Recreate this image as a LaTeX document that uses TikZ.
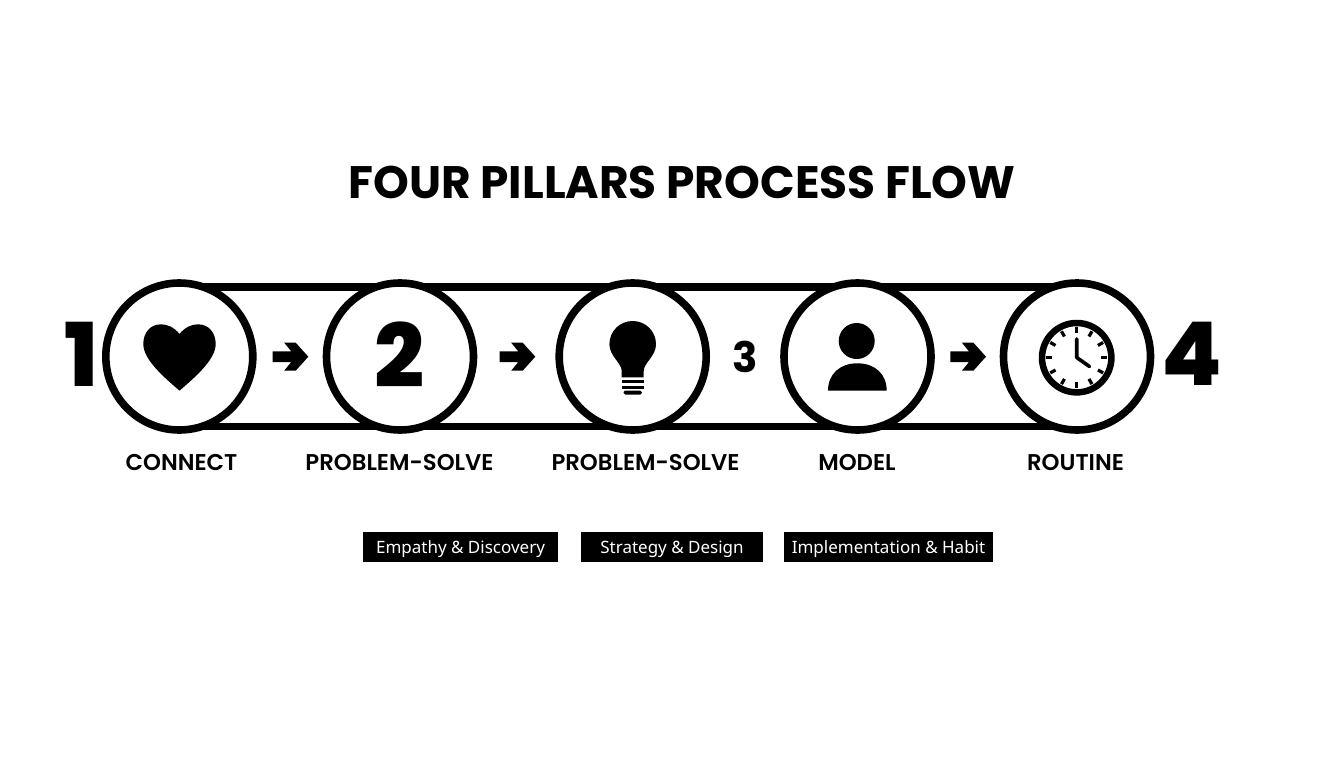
\documentclass[tikz,border=0pt]{standalone}
\usepackage{fontspec}
\setmainfont{Poppins}
\newfontfamily\pblack{Poppins ExtraBold}
\newfontfamily\psemi{Poppins SemiBold}
\newfontfamily\pbold{Poppins}[UprightFont=* Bold]
\newfontfamily\tagfont{Noto Sans}
\tikzset{
  ring/.style={circle,draw=black,fill=white,line width=7.6pt,minimum size=147pt,inner sep=0pt,outer sep=0pt},
  rail/.style={line width=7.6pt,draw=black},
  titletext/.style={anchor=base,inner sep=0pt,font=\pbold\fontsize{45.5}{46}\selectfont},
  steplabel/.style={anchor=base,inner sep=0pt,font=\psemi\fontsize{22.8}{23}\selectfont},
  bignum/.style={anchor=base,inner sep=0pt,font=\pblack\fontsize{88}{88}\selectfont},
  tagbox/.style={fill=black,text=white,inner sep=0pt,outer sep=0pt,minimum height=30pt,text height=15pt,text depth=3pt,font=\tagfont\fontsize{17}{17}\selectfont},
  flow/.pic={\fill[black] (-18,-5.4) -- (0.5,-5.4) -- (-6.5,-14) -- (5,-14) -- (17.6,0) -- (5,14) -- (-6.5,14) -- (0.5,5.4) -- (-18,5.4) -- cycle;},
}
\begin{document}
\begin{tikzpicture}[x=1pt,y=-1pt]
\useasboundingbox (0,0) rectangle (1344,768);
\fill[white] (0,0) rectangle (1344,768);
\node[titletext] (title) at (682,198) {FOUR PILLARS PROCESS FLOW};
\coordinate (tl) at (179,286.7);
\coordinate (tr) at (1077,286.7);
\coordinate (bl) at (179,426.3);
\coordinate (br) at (1077,426.3);
\draw[rail] (tl) -- (tr);
\draw[rail] (bl) -- (br);
\node[ring] (c1) at (179.3,356.5) {};
\node[ring] (c2) at (400,356.5) {};
\node[ring] (c3) at (632.7,356.5) {};
\node[ring] (c4) at (857.5,356.5) {};
\node[ring] (c5) at (1077,356.5) {};
% numbers
\node[bignum] (n1) at (81.5,386.7) {1};
\node[bignum] (n2) at (400,387) {2};
\node[anchor=base,inner sep=0pt,font=\pbold\fontsize{42}{42}\selectfont] (n3) at (745,372) {3};
\node[bignum] (n4) at (1191.5,385) {4};
% arrows
\pic at (290.7,356.7) {flow};
\pic at (517.7,356.7) {flow};
\pic at (968.4,356.7) {flow};
% heart
\fill[black] (179.5,334) .. controls (174,327) and (167,324.3) .. (161,324.3)
  .. controls (150,324.3) and (143.3,333) .. (143.3,344)
  .. controls (143.3,360) and (165,378) .. (179.5,390.7)
  .. controls (194,378) and (215.7,360) .. (215.7,344)
  .. controls (215.7,333) and (209,324.3) .. (198,324.3)
  .. controls (192,324.3) and (185,327) .. (179.5,334) -- cycle;
% bulb
\fill[black] (621.7,377.3) -- (621.7,371) .. controls (621.7,363) and (609.4,356) .. (609.4,344.3)
  .. controls (609.4,331) and (620,321) .. (632.7,321)
  .. controls (645.4,321) and (656,331) .. (656,344.3)
  .. controls (656,356) and (643.7,363) .. (643.7,371) -- (643.7,377.3) -- cycle;
\fill[black] (621.7,380) rectangle (643.7,383.3);
\fill[black] (621.7,385.7) rectangle (643.7,388.5);
\fill[black,rounded corners=1.5pt] (623.5,390.7) rectangle (641.8,394.5);
% person
\fill[black] (856.7,341) circle[radius=18];
\fill[black] (828,390.7) .. controls (828,374) and (840,363.3) .. (857.3,363.3)
  .. controls (875,363.3) and (886.7,374) .. (886.7,390.7) -- cycle;
% clock
\draw[black,line width=6.5pt] (1076.7,357.7) circle[radius=34.7];
\foreach \a in {0,30,...,330}
  \draw[black,line width=3.2pt] (1076.7,357.7) ++(\a:24.5) -- ++(\a:6);
\draw[black,line width=3.6pt,line cap=round,line join=round] (1076.7,339) -- (1076.7,357.5) -- (1089.5,366.5);
% labels
\node[steplabel] (l1) at (181.5,470) {CONNECT};
\node[steplabel] (l2) at (399.5,470) {PROBLEM-SOLVE};
\node[steplabel] (l3) at (645.5,470) {PROBLEM-SOLVE};
\node[steplabel] (l4) at (857,470) {MODEL};
\node[steplabel] (l5) at (1075.5,470) {ROUTINE};
% tags
\node[tagbox,minimum width=195pt] (t1) at (460.5,547) {Empathy \& Discovery};
\node[tagbox,minimum width=182pt] (t2) at (672,547) {Strategy \& Design};
\node[tagbox,minimum width=209pt] (t3) at (888.5,547) {Implementation \& Habit};
\end{tikzpicture}
\end{document}
